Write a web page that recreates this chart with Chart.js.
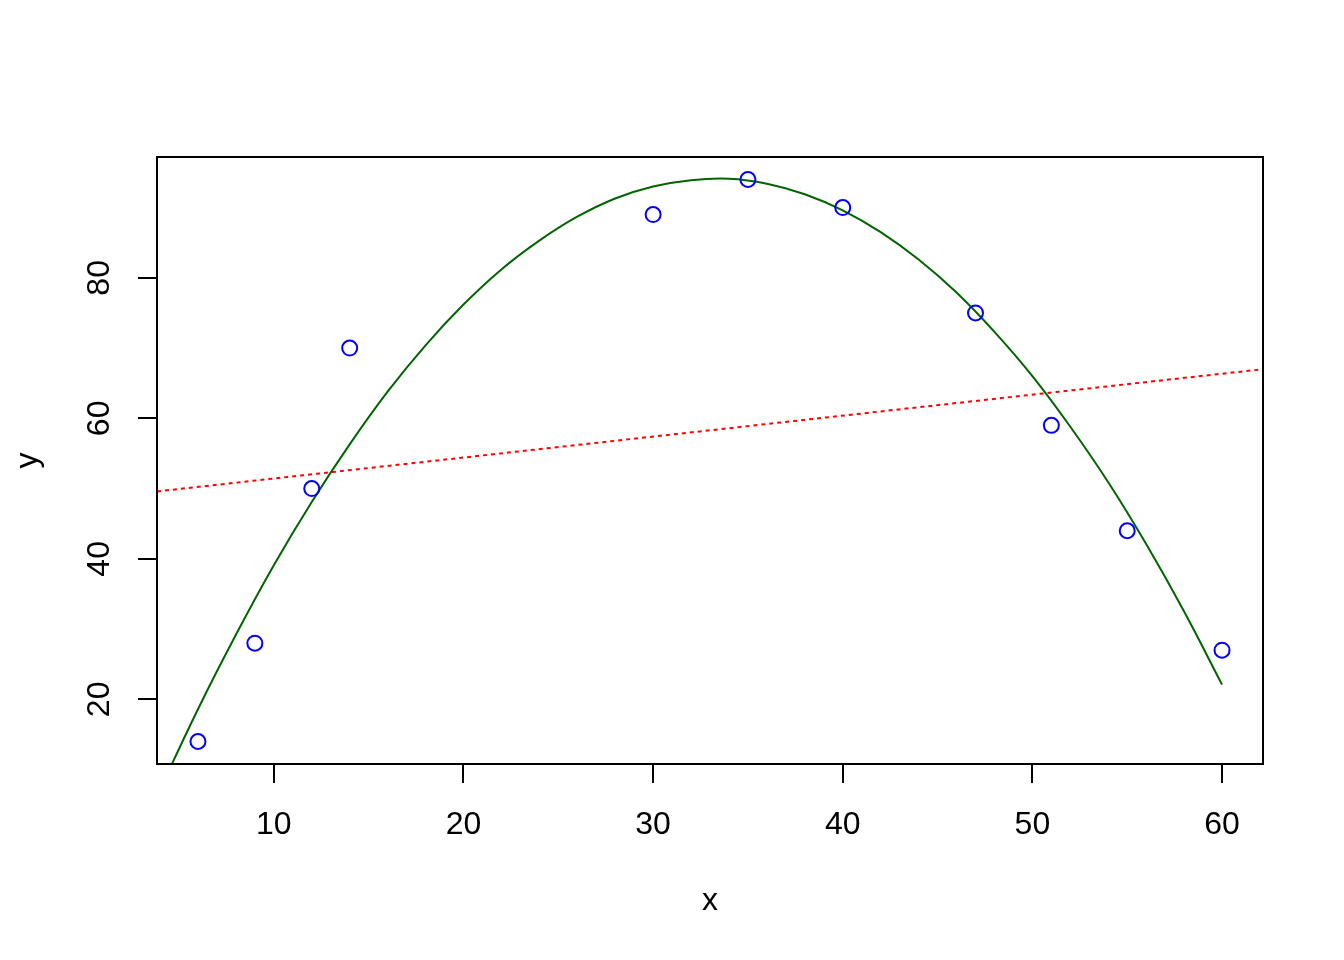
<!DOCTYPE html>
<html>
<head>
<meta charset="utf-8">
<script src="https://cdn.jsdelivr.net/npm/chart.js@4"></script>
<style>
  body { margin: 0; background: #fff; }
  #wrap { width: 1344px; height: 960px; }
</style>
</head>
<body>
<div id="wrap"><canvas id="fitPlot"></canvas></div>
<script>
// observed points
var xPts = [6, 9, 12, 14, 30, 35, 40, 47, 51, 55, 60];
var yPts = [14, 28, 50, 70, 89, 94, 90, 75, 59, 44, 27];

// quadratic fit curve
var curveX = [2, 4, 6, 8, 10, 12, 14, 16, 18, 20, 22, 24, 26, 28, 30,
              32, 34, 36, 38, 40, 42, 44, 46, 48, 50, 52, 54, 56, 58, 60];
var curveY = [-5.2, 7.1, 18.6, 29.2, 39.1, 48.1, 56.3, 63.8, 70.4, 76.2, 81.2, 85.3, 88.7, 91.3, 93.0,
              93.9, 94.1, 93.4, 91.9, 89.6, 86.5, 82.6, 77.9, 72.3, 66.0, 58.8, 50.9, 42.1, 32.5, 22.1];

// straight-line fit (dotted), across the whole plot
var lineX = [3.84, 62.16];
var lineY = [49.6, 67.0];

var xTicks = [10, 20, 30, 40, 50, 60];
var yTicks = [20, 40, 60, 80];

var font = "'Liberation Sans', Arial, sans-serif";
var fontSize = 32;

function toXY(xs, ys) {
    return xs.map(function (x, i) { return { x: x, y: ys[i] }; });
}

// box around plot + rotated y labels like base R
var rBox = {
    id: "rBox",
    afterDraw: function (chart) {
        var ctx = chart.ctx;
        var a = chart.chartArea;
        ctx.save();
        ctx.strokeStyle = "#000";
        ctx.lineWidth = 2;
        ctx.strokeRect(a.left, a.top, a.right - a.left, a.bottom - a.top);

        var ys = chart.scales.y;
        ctx.fillStyle = "#000";
        ctx.font = fontSize + "px " + font;
        ctx.textAlign = "center";
        ctx.textBaseline = "middle";
        yTicks.forEach(function (v) {
            ctx.save();
            ctx.translate(100, ys.getPixelForValue(v));
            ctx.rotate(-Math.PI / 2);
            ctx.fillText(String(v), 0, 0);
            ctx.restore();
        });
        ctx.restore();
    }
};

new Chart("fitPlot", {
    type: "scatter",
    data: {
        datasets: [{
            label: "points",
            data: toXY(xPts, yPts),
            showLine: false,
            pointStyle: "circle",
            pointRadius: 7.5,
            pointBorderWidth: 2,
            borderColor: "#0000ff",
            backgroundColor: "rgba(0,0,0,0)"
        }, {
            label: "quadratic",
            data: toXY(curveX, curveY),
            showLine: true,
            tension: 0.4,
            borderColor: "#006400",
            borderWidth: 2,
            pointRadius: 0,
            clip: 0
        }, {
            label: "linear",
            data: toXY(lineX, lineY),
            showLine: true,
            borderColor: "#ff0000",
            borderWidth: 2,
            borderDash: [4, 4],
            pointRadius: 0,
            clip: 0
        }]
    },
    options: {
        responsive: true,
        maintainAspectRatio: false,
        animation: false,
        events: [],
        layout: {
            padding: { top: 157, right: 81, left: 0, bottom: 0 }
        },
        plugins: {
            legend: { display: false },
            tooltip: { enabled: false }
        },
        scales: {
            x: {
                type: "linear",
                min: 3.84,
                max: 62.16,
                afterBuildTicks: function (scale) {
                    scale.ticks = xTicks.map(function (v) { return { value: v }; });
                },
                afterFit: function (scale) { scale.height = 196; },
                border: { display: false },
                grid: {
                    drawOnChartArea: false,
                    drawTicks: true,
                    tickLength: 19,
                    color: "#000",
                    lineWidth: 2
                },
                ticks: {
                    color: "#000",
                    font: { family: font, size: fontSize },
                    padding: 23,
                    maxRotation: 0
                },
                title: {
                    display: true,
                    text: "x",
                    color: "#000",
                    font: { family: font, size: fontSize },
                    padding: { top: 0, bottom: 40 }
                }
            },
            y: {
                type: "linear",
                min: 10.8,
                max: 97.2,
                afterBuildTicks: function (scale) {
                    scale.ticks = yTicks.map(function (v) { return { value: v }; });
                },
                afterFit: function (scale) { scale.width = 157; },
                border: { display: false },
                grid: {
                    drawOnChartArea: false,
                    drawTicks: true,
                    tickLength: 19,
                    color: "#000",
                    lineWidth: 2
                },
                ticks: { display: false },
                title: {
                    display: true,
                    text: "y",
                    color: "#000",
                    font: { family: font, size: fontSize },
                    padding: { top: 9, bottom: 0 }
                }
            }
        }
    },
    plugins: [rBox]
});
</script>
</body>
</html>
